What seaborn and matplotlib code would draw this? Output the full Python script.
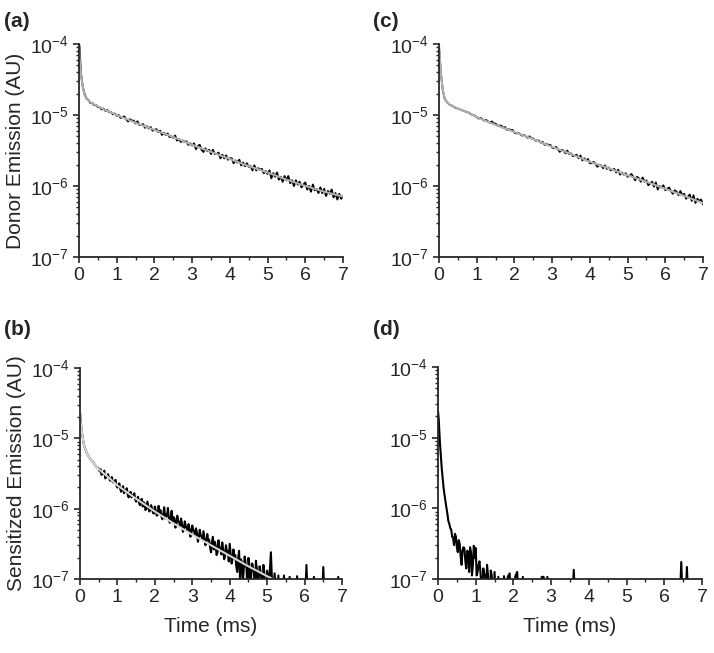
import numpy as np
import pandas as pd
import matplotlib
matplotlib.use("Agg")
import matplotlib.pyplot as plt
import seaborn as sns
from matplotlib.ticker import LogLocator, MultipleLocator, NullFormatter, FixedLocator

sns.set_style("ticks")
plt.rcParams["font.family"] = ["Liberation Sans", "DejaVu Sans"]
plt.rcParams["mathtext.default"] = "regular"

# ---------------- data (log10 of emission, AU) ----------------
t_early = [0.0, 0.01, 0.02, 0.03, 0.04]
time_ms = np.round(np.concatenate([t_early, np.arange(1, 141) * 0.05]), 3)
# extra interleaved samples for the noisier sensitized traces
time_mid_b = np.round(np.arange(0, 90) * 0.05 + 0.525, 3)   # 0.525 .. 4.975
time_mid_d = np.round(np.arange(0, 25) * 0.05 + 0.275, 3)   # 0.275 .. 1.475

donor_a = [
    -4.00, -4.02, -4.12, -4.22, -4.33,
    -4.41, -4.60, -4.71, -4.77, -4.79, -4.83, -4.83, -4.86, -4.86, -4.89,
    -4.89, -4.92, -4.91, -4.94, -4.93, -4.96, -4.96, -4.99, -4.98, -5.01,
    -5.00, -5.04, -5.03, -5.02, -5.06, -5.09, -5.06, -5.08, -5.08, -5.12,
    -5.09, -5.14, -5.14, -5.13, -5.18, -5.16, -5.19, -5.17, -5.22, -5.21,
    -5.20, -5.24, -5.22, -5.28, -5.25, -5.28, -5.26, -5.31, -5.30, -5.32,
    -5.29, -5.36, -5.34, -5.38, -5.36, -5.38, -5.37, -5.42, -5.40, -5.43,
    -5.40, -5.48, -5.44, -5.42, -5.49, -5.52, -5.47, -5.51, -5.49, -5.55,
    -5.49, -5.55, -5.55, -5.53, -5.61, -5.56, -5.61, -5.57, -5.63, -5.61,
    -5.61, -5.68, -5.64, -5.67, -5.63, -5.71, -5.67, -5.72, -5.68, -5.73,
    -5.72, -5.78, -5.71, -5.78, -5.75, -5.77, -5.76, -5.82, -5.79, -5.83,
    -5.78, -5.89, -5.82, -5.87, -5.81, -5.91, -5.87, -5.94, -5.86, -5.92,
    -5.86, -5.96, -5.92, -6.00, -5.92, -5.98, -5.94, -6.02, -5.98, -5.95,
    -6.05, -6.00, -6.08, -5.98, -6.06, -6.04, -6.10, -6.02, -6.10, -6.04,
    -6.14, -6.07, -6.11, -6.05, -6.16, -6.10, -6.19, -6.11, -6.18, -6.14,
]

donor_c = [
    -4.05, -4.10, -4.18, -4.26, -4.34,
    -4.41, -4.65, -4.77, -4.81, -4.84, -4.86, -4.87, -4.89, -4.90, -4.91,
    -4.92, -4.93, -4.94, -4.95, -4.96, -4.97, -4.99, -5.00, -5.01, -5.03,
    -5.05, -5.04, -5.06, -5.08, -5.07, -5.09, -5.11, -5.09, -5.12, -5.12,
    -5.15, -5.15, -5.15, -5.18, -5.17, -5.21, -5.20, -5.21, -5.21, -5.25,
    -5.26, -5.25, -5.27, -5.29, -5.28, -5.30, -5.32, -5.30, -5.33, -5.33,
    -5.36, -5.36, -5.36, -5.39, -5.38, -5.42, -5.41, -5.42, -5.42, -5.46,
    -5.47, -5.45, -5.48, -5.52, -5.49, -5.50, -5.54, -5.50, -5.55, -5.54,
    -5.58, -5.57, -5.56, -5.61, -5.57, -5.64, -5.61, -5.64, -5.62, -5.68,
    -5.68, -5.66, -5.69, -5.73, -5.70, -5.71, -5.75, -5.71, -5.76, -5.74,
    -5.78, -5.77, -5.76, -5.81, -5.77, -5.84, -5.81, -5.84, -5.82, -5.87,
    -5.86, -5.83, -5.87, -5.92, -5.87, -5.89, -5.94, -5.88, -5.94, -5.92,
    -5.99, -5.96, -5.94, -6.01, -5.95, -6.05, -6.00, -6.02, -5.99, -6.06,
    -6.04, -6.02, -6.07, -6.11, -6.06, -6.08, -6.13, -6.07, -6.13, -6.11,
    -6.18, -6.15, -6.12, -6.21, -6.13, -6.24, -6.18, -6.21, -6.19, -6.26,
]

sens_b = [
    -4.63, -4.70, -4.76, -4.82, -4.87,
    -4.91, -5.08, -5.17, -5.23, -5.27, -5.31, -5.34, -5.38, -5.41, -5.43,
    -5.44, -5.50, -5.46, -5.55, -5.51, -5.60, -5.55, -5.63, -5.59, -5.70,
    -5.64, -5.76, -5.68, -5.74, -5.71, -5.84, -5.76, -5.81, -5.78, -5.90,
    -5.83, -5.95, -5.86, -5.91, -6.02, -5.90, -6.04, -5.95, -6.06, -5.97,
    -6.10, -5.96, -6.02, -6.15, -5.98, -6.08, -5.99, -6.20, -6.03, -6.12,
    -6.27, -6.10, -6.20, -6.14, -6.33, -6.18, -6.28, -6.22, -6.40, -6.24,
    -6.33, -6.28, -6.47, -6.30, -6.40, -6.32, -6.52, -6.36, -6.44, -6.62,
    -6.40, -6.47, -6.66, -6.45, -6.56, -6.48, -6.72, -6.52, -6.60, -6.50,
    -6.78, -6.58, -6.66, -6.90, -6.60, -6.72, -7.05, -6.68, -6.85, -6.70,
    -7.10, -6.78, -6.92, -6.74, -7.20, -6.82, -7.00, -6.80, -7.30, -6.88,
    -7.10, -6.62, -7.30, -6.92, -7.40, -6.95, -7.50, -7.50, -6.95, -7.50,
    -7.50, -6.97, -7.50, -7.50, -7.50, -6.96, -7.50, -7.50, -7.50, -7.50,
    -6.80, -7.50, -7.50, -7.50, -6.97, -7.50, -7.50, -7.50, -7.50, -6.83,
    -7.50, -7.50, -7.50, -7.50, -7.50, -7.50, -7.50, -6.97, -7.50, -7.50,
]

sens_b_mid = [
    -5.47, -5.52, -5.50, -5.57, -5.54, -5.56, -5.60, -5.62, -5.61, -5.67,
    -5.68, -5.72, -5.72, -5.78, -5.76, -5.80, -5.79, -5.84, -5.83, -5.87,
    -5.86, -5.91, -5.90, -5.97, -5.93, -6.00, -5.97, -6.02, -6.00, -6.07,
    -6.03, -6.09, -6.06, -6.11, -6.08, -6.14, -6.10, -6.16, -6.12, -6.19,
    -6.14, -6.22, -6.18, -6.25, -6.22, -6.29, -6.25, -6.32, -6.28, -6.35,
    -6.30, -6.38, -6.35, -6.42, -6.38, -6.45, -6.42, -6.48, -6.45, -6.55,
    -6.48, -6.58, -6.52, -6.62, -6.55, -6.65, -6.58, -6.68, -6.62, -6.75,
    -6.64, -6.72, -6.70, -6.82, -6.72, -7.00, -6.76, -6.86, -6.78, -7.20,
    -6.80, -6.95, -6.84, -7.30, -6.86, -7.00, -6.90, -7.50, -6.92, -7.20,
]

sens_d = [
    -4.63, -4.68, -4.75, -4.85, -4.96,
    # 0.05 .. 0.50
    -5.06, -5.44, -5.72, -5.91, -6.08, -6.22, -6.30, -6.42, -6.36, -6.55,
    # 0.55 .. 1.00
    -6.45, -6.68, -6.60, -6.57, -6.85, -6.62, -6.55, -6.95, -6.53, -6.56,
    # 1.05 .. 1.50
    -6.90, -6.75, -7.10, -6.85, -6.95, -6.80, -7.30, -6.88, -7.50, -6.90,
    # 1.55 .. 2.00
    -7.50, -6.97, -7.50, -7.50, -6.96, -7.50, -6.97, -6.92, -7.50, -7.50,
    # 2.05 .. 2.50
    -6.96, -6.90, -7.50, -7.50, -6.97, -7.50, -7.50, -7.50, -7.50, -7.50,
    # 2.55 .. 3.00
    -7.50, -7.50, -7.50, -7.50, -6.97, -6.97, -7.50, -6.97, -7.50, -7.50,
    # 3.05 .. 3.50
    -7.50, -7.50, -7.50, -7.50, -7.50, -7.50, -7.50, -7.50, -7.50, -7.50,
    # 3.55 .. 4.00
    -7.50, -6.87, -7.50, -7.50, -7.50, -7.50, -7.50, -7.50, -7.50, -7.50,
    # 4.05 .. 4.50
    -7.50, -7.50, -7.50, -7.50, -7.50, -7.50, -7.50, -7.50, -7.50, -7.50,
    # 4.55 .. 5.00
    -7.50, -7.50, -7.50, -7.50, -7.50, -7.50, -7.50, -7.50, -7.50, -7.50,
    # 5.05 .. 5.50
    -7.50, -7.50, -7.50, -7.50, -7.50, -7.50, -7.50, -7.50, -7.50, -7.50,
    # 5.55 .. 6.00
    -7.50, -7.50, -7.50, -7.50, -7.50, -7.50, -7.50, -7.50, -7.50, -7.50,
    # 6.05 .. 6.50
    -7.50, -7.50, -7.50, -7.50, -7.50, -7.50, -7.50, -7.50, -6.76, -7.50,
    # 6.55 .. 7.00
    -7.50, -6.83, -7.50, -7.50, -7.50, -7.50, -7.50, -7.50, -7.50, -7.50,
]

sens_d_mid = [
    -6.18, -6.28, -6.40, -6.52, -6.40, -6.62, -6.50, -6.80, -6.55, -6.75,
    -6.60, -6.90, -6.62, -6.80, -6.70, -6.95, -6.80, -6.90, -7.20, -6.92,
    -7.30, -6.94, -7.40, -6.95, -7.50,
]

# fitted curves (log10), read at anchor times
fit_t_a = [0.0, 0.01, 0.02, 0.03, 0.05, 0.07, 0.1, 0.15, 0.2, 0.3, 0.5, 0.75, 1, 1.5, 2, 2.5, 3, 3.5, 4, 4.5, 5, 5.5, 6, 6.5, 7]
fit_a = [-4.05, -4.14, -4.23, -4.31, -4.41, -4.50, -4.60, -4.72, -4.77, -4.82, -4.88, -4.94, -5.00, -5.11, -5.21, -5.31, -5.42, -5.52, -5.62, -5.72, -5.81, -5.91, -6.00, -6.08, -6.15]
fit_t_c = [0.0, 0.01, 0.02, 0.03, 0.05, 0.07, 0.1, 0.15, 0.2, 0.3, 0.5, 0.75, 1, 1.5, 2, 2.5, 3, 3.5, 4, 4.5, 5, 5.5, 6, 6.5, 7]
fit_c = [-4.02, -4.08, -4.15, -4.27, -4.41, -4.50, -4.65, -4.77, -4.81, -4.86, -4.91, -4.96, -5.03, -5.14, -5.24, -5.34, -5.45, -5.55, -5.66, -5.75, -5.85, -5.94, -6.04, -6.14, -6.24]
fit_t_b = [0.0, 0.02, 0.05, 0.1, 0.15, 0.2, 0.3, 0.4, 0.5, 0.75, 1, 1.5, 2, 2.5, 3, 3.5, 4, 4.5, 5, 5.5]
fit_b = [-4.63, -4.78, -4.91, -5.08, -5.17, -5.23, -5.31, -5.38, -5.44, -5.55, -5.67, -5.86, -6.04, -6.21, -6.37, -6.52, -6.67, -6.82, -6.96, -7.10]

panel_labels = ["(a)", "(b)", "(c)", "(d)"]
xticks = [0, 1, 2, 3, 4, 5, 6, 7]
ylabel_top = "Donor Emission (AU)"
ylabel_bottom = "Sensitized Emission (AU)"
xlabel = "Time (ms)"

# ---------------- figure ----------------
W, H = 714, 653
fig = plt.figure(figsize=(W / 100, H / 100), dpi=100)


def axpos(l, r, t, b):
    return [l / W, 1 - b / H, (r - l) / W, (b - t) / H]


def trace(t_main, v_main, t_mid=None, v_mid=None):
    t = list(t_main)
    v = list(v_main)
    if t_mid is not None:
        t += list(t_mid)
        v += list(v_mid)
    df = pd.DataFrame({"t": t, "logy": v}).sort_values("t", kind="stable")
    df["y"] = 10.0 ** df["logy"]
    return df


panels = [
    dict(pos=axpos(79, 343, 44, 257), df=trace(time_ms, donor_a), ft=fit_t_a, fv=fit_a,
         fc="#b0b0b0", lw=1.4, lab=panel_labels[0], ylab=ylabel_top, xlab=None, lxy=(4, 27)),
    dict(pos=axpos(80, 342, 368, 579), df=trace(time_ms, sens_b, time_mid_b, sens_b_mid), ft=fit_t_b, fv=fit_b,
         fc="#d6d6d6", lw=1.5, lab=panel_labels[1], ylab=ylabel_bottom, xlab=xlabel, lxy=(4, 335)),
    dict(pos=axpos(439, 703, 44, 257), df=trace(time_ms, donor_c), ft=fit_t_c, fv=fit_c,
         fc="#b0b0b0", lw=1.3, lab=panel_labels[2], ylab=None, xlab=None, lxy=(373, 27)),
    dict(pos=axpos(438, 702, 367, 579), df=trace(time_ms, sens_d, time_mid_d, sens_d_mid), ft=None, fv=None,
         fc=None, lw=1.5, lab=panel_labels[3], ylab=None, xlab=xlabel, lxy=(373, 335)),
]

for p in panels:
    ax = fig.add_axes(p["pos"])
    sns.lineplot(data=p["df"], x="t", y="y", ax=ax, color="black", lw=p["lw"],
                 estimator=None, sort=False)
    if p["ft"] is not None:
        dff = pd.DataFrame({"t": p["ft"], "y": 10.0 ** np.asarray(p["fv"])})
        sns.lineplot(data=dff, x="t", y="y", ax=ax, color=p["fc"], lw=1.5,
                     estimator=None, sort=False)
    ax.set_yscale("log")
    ax.set_xlim(0, 7)
    ax.set_ylim(1e-7, 1e-4)
    sns.despine(ax=ax)
    for s in ("left", "bottom"):
        ax.spines[s].set_linewidth(1.3)
    ax.xaxis.set_major_locator(FixedLocator(xticks))
    ax.xaxis.set_minor_locator(MultipleLocator(0.5))
    ax.yaxis.set_major_locator(LogLocator(base=10, numticks=10))
    ax.yaxis.set_minor_locator(LogLocator(base=10, subs=np.arange(2, 10), numticks=20))
    ax.yaxis.set_minor_formatter(NullFormatter())
    ax.tick_params(which="major", direction="out", length=4, width=1.2,
                   labelsize=14, pad=3)
    ax.tick_params(which="minor", direction="out", length=2.5, width=1.0)
    ax.set_xlabel(p["xlab"] if p["xlab"] else "", fontsize=15, labelpad=8)
    ax.set_ylabel(p["ylab"] if p["ylab"] else "", fontsize=15, labelpad=4)
    fig.text(p["lxy"][0] / W, 1 - p["lxy"][1] / H, p["lab"], fontsize=15,
             fontweight="bold", ha="left", va="baseline")

fig.savefig("out.png", dpi=100)
